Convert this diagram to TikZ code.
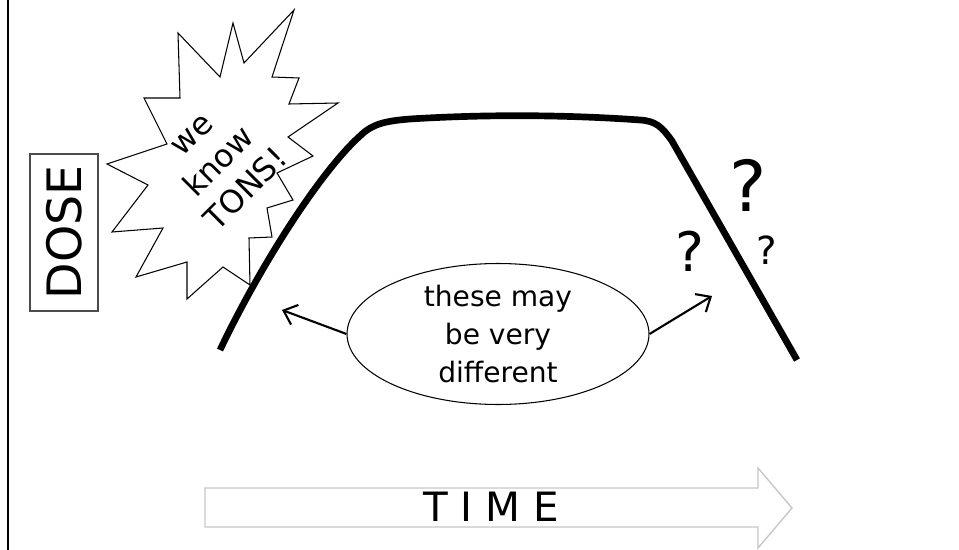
\documentclass[tikz,border=0pt]{standalone}
\usepackage{fontspec}
\setmainfont{DejaVu Sans}
\usepackage{tikz}
\usetikzlibrary{shapes.geometric, arrows.meta, positioning}

\begin{document}
\begin{tikzpicture}[
  x=0.02cm, y=-0.02cm,
  %% styles
  edgeline/.style={line width=1.1pt, black},
  dosebox/.style={
    draw=black!70, line width=0.6pt, rotate=90,
    minimum width=3.14cm, minimum height=1.36cm, inner sep=0pt,
    font={\fontsize{27pt}{30pt}\selectfont}},
  burst/.style={draw=black, line width=0.6pt, fill=white, line join=miter},
  bursttext/.style={
    rotate=45, align=center, inner sep=0pt,
    font={\fontsize{18pt}{22pt}\selectfont}},
  dosecurve/.style={line width=3.8pt, black},
  noteell/.style={
    ellipse, draw, line width=0.6pt,
    minimum width=6.04cm, minimum height=2.82cm, inner sep=0pt,
    align=center, font={\fontsize{16pt}{21.5pt}\selectfont}},
  pointer/.style={-{Straight Barb[length=2.4mm, width=4.2mm]}, line width=1.2pt},
  qmark/.style={inner sep=0pt},
  timearrow/.style={draw=black!22, line width=0.8pt, fill=white},
  timetext/.style={inner sep=0pt, font={\fontsize{23pt}{26pt}\selectfont}}
]
\useasboundingbox (0,0) rectangle (959,550);

%% ── left border ─────────────────────────────────────────────
\draw[edgeline] (8,0) -- (8,550);

%% ── DOSE label ──────────────────────────────────────────────
\node[dosebox] (dose) at (64,232.5) {DOSE};

%% ── starburst ───────────────────────────────────────────────
\draw[burst] (294,10) -- (272,77) -- (299,78) -- (289,104) -- (338,103)
  -- (288,137) -- (313,156) -- (277,173) -- (293,200) -- (267,208)
  -- (272,237) -- (249,238) -- (250,285) -- (223,267) -- (187,299)
  -- (187,262) -- (136,277) -- (163,228) -- (112,232) -- (148,185)
  -- (107,164) -- (167,144) -- (144,98) -- (180,98) -- (178,33)
  -- (220,77) -- (233,23) -- (244,63) -- cycle;
\node[bursttext] (tons) at (220,163) {we\\know\\TONS!};

%% ── dose curve ──────────────────────────────────────────────
\draw[dosecurve] (220,350) .. controls (262,262) and (322,170) .. (360,136)
  .. controls (372,124) and (385,121) .. (410,119)
  .. controls (490,114) and (570,115) .. (640,120)
  .. controls (656,121) and (662,127) .. (672,141) -- (797,360);

%% ── question marks ──────────────────────────────────────────
\node[qmark, font={\fontsize{40pt}{44pt}\selectfont}] (qbig)   at (748,185) {?};
\node[qmark, font={\fontsize{31pt}{34pt}\selectfont}] (qmid)   at (690,251) {?};
\node[qmark, font={\fontsize{22pt}{25pt}\selectfont}] (qsmall) at (767,250) {?};

%% ── note ellipse and pointers ───────────────────────────────
\node[noteell] (note) at (498,334) {these may\\be very\\different};
\coordinate (risetip) at (282,310);
\coordinate (falltip) at (712,296);
\draw[pointer] (note.west) -- (risetip);
\draw[pointer] (note.east) -- (falltip);

%% ── time axis ───────────────────────────────────────────────
\draw[timearrow] (205,488) -- (758,488) -- (758,468) -- (792,508)
  -- (758,548) -- (758,527) -- (205,527) -- cycle;
\node[timetext] (time) at (491,507) {T I M E};

\end{tikzpicture}
\end{document}
